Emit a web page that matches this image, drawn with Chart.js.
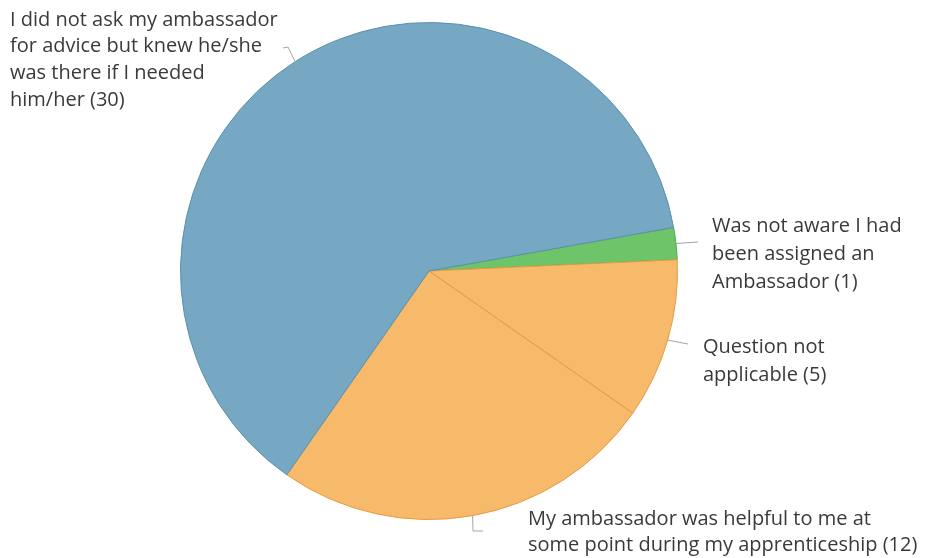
<!DOCTYPE html>
<html lang="en">
<head>
<meta charset="utf-8">
<title>Ambassador support</title>
<script src="https://cdn.jsdelivr.net/npm/chart.js@4/dist/chart.umd.min.js"></script>
<style>
  html, body { margin: 0; padding: 0; background: #fff; }
  #wrap { width: 928px; height: 558px; }
</style>
</head>
<body>
<div id="wrap"><canvas id="pie"></canvas></div>

<script>
// survey answers, in drawing order (clockwise)
var answers = [
  ['Was not aware I had', 'been assigned an', 'Ambassador'],
  ['Question not', 'applicable'],
  ['My ambassador was helpful to me at', 'some point during my apprenticeship'],
  ['I did not ask my ambassador', 'for advice but knew he/she', 'was there if I needed', 'him/her']
];
var counts = [1, 5, 12, 30];

var fills   = ['#6dc469', '#f7b96a', '#f7b96a', '#76a8c4'];
var strokes = ['#4fa94c', '#e59a45', '#e59a45', '#5b90ae'];

// where each label block sits and how its leader line bends
var callouts = [
  { x: 712, y: 226, lh: 28, bend: [[698, 242]] },
  { x: 703, y: 347, lh: 28.5, bend: [[688, 344]] },
  { x: 528, y: 519, lh: 26, bend: [[473, 531], [483, 531]] },
  { x: 10,  y: 20,  lh: 26.7, bend: [[288, 47], [283, 48]] }
];

var calloutPlugin = {
  id: 'callouts',
  afterDatasetsDraw: function(chart) {
    var ctx = chart.ctx;
    var meta = chart.getDatasetMeta(0);
    ctx.save();
    meta.data.forEach(function(arc, i) {
      var c = callouts[i];
      var p = arc.getProps(['x', 'y', 'startAngle', 'endAngle', 'outerRadius'], true);
      var mid = (p.startAngle + p.endAngle) / 2;
      var ax = p.x + Math.cos(mid) * p.outerRadius;
      var ay = p.y + Math.sin(mid) * p.outerRadius;

      ctx.strokeStyle = '#a5a5a5';
      ctx.lineWidth = 1;
      ctx.beginPath();
      ctx.moveTo(ax, ay);
      c.bend.forEach(function(pt) { ctx.lineTo(pt[0], pt[1]); });
      ctx.stroke();

      var lines = answers[i].slice();
      lines[lines.length - 1] += ' (' + counts[i] + ')';
      ctx.fillStyle = '#3a3a3a';
      ctx.font = '20px "Open Sans", sans-serif';
      ctx.textAlign = 'left';
      ctx.textBaseline = 'middle';
      lines.forEach(function(t, k) {
        ctx.fillText(t, c.x, c.y + k * c.lh);
      });
    });
    ctx.restore();
  }
};

new Chart(document.getElementById('pie'), {
  type: 'pie',
  data: {
    labels: answers.map(function(a) { return a.join(' '); }),
    datasets: [{
      data: counts,
      backgroundColor: fills,
      borderColor: strokes,
      borderWidth: 1
    }]
  },
  options: {
    responsive: true,
    maintainAspectRatio: false,
    animation: false,
    rotation: 79.9,
    layout: { padding: { left: 180, right: 250, top: 22, bottom: 38 } },
    plugins: {
      legend: { display: false },
      tooltip: { enabled: false }
    }
  },
  plugins: [calloutPlugin]
});
</script>
</body>
</html>
